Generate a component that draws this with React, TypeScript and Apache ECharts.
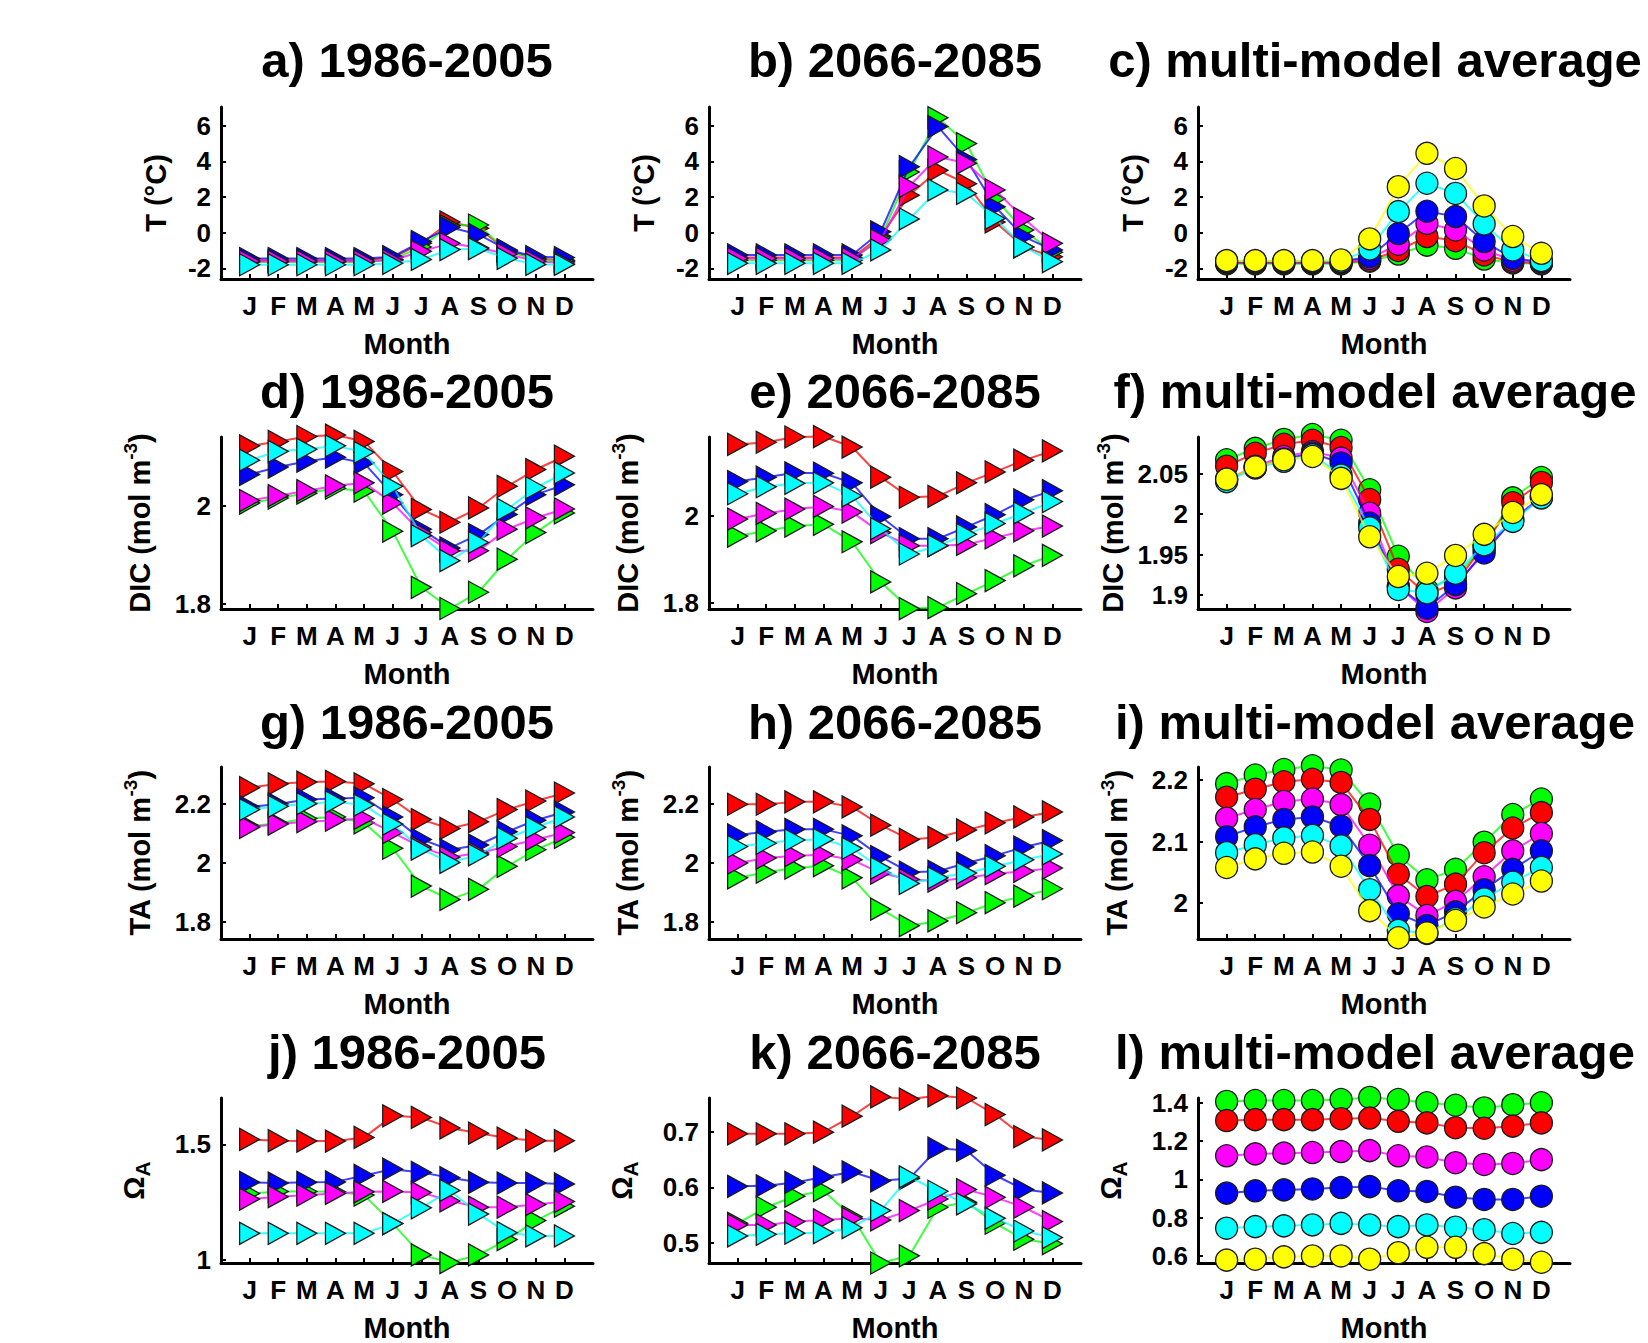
import React, { useEffect, useRef } from 'react';
import * as echarts from 'echarts';

const MONTHS = ['J', 'F', 'M', 'A', 'M', 'J', 'J', 'A', 'S', 'O', 'N', 'D'];
const MONTH_POS = [1, 2, 3, 4, 5, 6, 7, 8, 9, 10, 11, 12];

const RED = '#ff0000';
const GREEN = '#00ff00';
const BLUE = '#0000ff';
const MAGENTA = '#ff00ff';
const CYAN = '#00ffff';
const YELLOW = '#ffff00';

// a) T 1986-2005
const tHistRed = [-1.55, -1.55, -1.55, -1.55, -1.55, -1.4, -0.6, 0.6, 0.25, -1.0, -1.45, -1.55];
const tHistGreen = [-1.65, -1.65, -1.65, -1.65, -1.65, -1.5, -0.8, 0.4, 0.43, -1.05, -1.5, -1.6];
const tHistBlue = [-1.45, -1.45, -1.45, -1.45, -1.45, -1.35, -0.5, 0.3, -0.1, -0.97, -1.35, -1.4];
const tHistMagenta = [-1.6, -1.6, -1.6, -1.6, -1.6, -1.55, -1.05, -0.6, -0.85, -1.2, -1.6, -1.7];
const tHistCyan = [-1.8, -1.8, -1.8, -1.8, -1.8, -1.72, -1.5, -0.95, -0.9, -1.44, -1.78, -1.78];

// b) T 2066-2085
const tFutRed = [-1.4, -1.4, -1.4, -1.4, -1.4, -0.2, 2.1, 3.5, 2.75, 0.6, -0.8, -1.35];
const tFutGreen = [-1.55, -1.55, -1.55, -1.55, -1.55, -0.3, 3.4, 6.45, 5.0, 1.9, 0.15, -1.1];
const tFutBlue = [-1.25, -1.25, -1.25, -1.25, -1.25, 0.05, 3.7, 5.95, 4.1, 1.45, -0.22, -0.97];
const tFutMagenta = [-1.45, -1.45, -1.45, -1.45, -1.45, -0.4, 2.6, 4.25, 3.9, 2.4, 0.8, -0.6];
const tFutCyan = [-1.72, -1.72, -1.72, -1.72, -1.72, -0.97, 0.77, 2.4, 2.2, 0.8, -0.8, -1.63];

// c) T multi-model average
const tAvgGreen = [-1.75, -1.75, -1.75, -1.75, -1.75, -1.6, -1.2, -0.7, -0.88, -1.48, -1.7, -1.75];
const tAvgRed = [-1.7, -1.7, -1.7, -1.7, -1.7, -1.55, -1.0, -0.22, -0.45, -1.25, -1.65, -1.7];
const tAvgMagenta = [-1.65, -1.65, -1.65, -1.65, -1.65, -1.45, -0.65, 0.52, 0.15, -0.97, -1.55, -1.7];
const tAvgBlue = [-1.62, -1.62, -1.62, -1.62, -1.62, -1.35, -0.05, 1.2, 0.9, -0.5, -1.44, -1.63];
const tAvgCyan = [-1.6, -1.6, -1.6, -1.6, -1.6, -0.92, 1.18, 2.77, 2.2, 0.49, -0.97, -1.57];
const tAvgYellow = [-1.57, -1.57, -1.57, -1.57, -1.53, -0.35, 2.58, 4.45, 3.6, 1.5, -0.22, -1.16];

// d) DIC 1986-2005
const dicHistRed = [2.121, 2.13, 2.14, 2.143, 2.13, 2.069, 1.992, 1.966, 1.995, 2.039, 2.073, 2.1];
const dicHistGreen = [2.005, 2.015, 2.025, 2.035, 2.029, 1.948, 1.834, 1.791, 1.824, 1.891, 1.945, 1.985];
const dicHistBlue = [2.063, 2.078, 2.09, 2.098, 2.086, 2.022, 1.952, 1.914, 1.941, 1.982, 2.022, 2.042];
const dicHistMagenta = [2.01, 2.02, 2.03, 2.04, 2.046, 2.005, 1.945, 1.908, 1.908, 1.952, 1.975, 1.993];
const dicHistCyan = [2.092, 2.11, 2.114, 2.121, 2.108, 2.039, 1.939, 1.888, 1.925, 1.992, 2.036, 2.066];

// e) DIC 2066-2085
const dicFutRed = [2.163, 2.168, 2.18, 2.181, 2.157, 2.088, 2.042, 2.044, 2.075, 2.1, 2.127, 2.148];
const dicFutGreen = [1.953, 1.965, 1.976, 1.98, 1.94, 1.848, 1.787, 1.789, 1.821, 1.851, 1.885, 1.909];
const dicFutBlue = [2.078, 2.088, 2.098, 2.097, 2.075, 1.998, 1.947, 1.947, 1.974, 2.002, 2.036, 2.057];
const dicFutMagenta = [1.992, 2.005, 2.015, 2.021, 2.008, 1.961, 1.931, 1.931, 1.934, 1.949, 1.965, 1.976];
const dicFutCyan = [2.05, 2.066, 2.074, 2.075, 2.045, 1.97, 1.912, 1.931, 1.957, 1.982, 2.006, 2.032];

// f) DIC multi-model average
const dicAvgGreen = [2.067, 2.081, 2.092, 2.098, 2.091, 2.03, 1.948, 1.907, 1.923, 1.96, 2.02, 2.045];
const dicAvgRed = [2.059, 2.075, 2.086, 2.091, 2.082, 2.018, 1.932, 1.901, 1.915, 1.962, 2.014, 2.039];
const dicAvgMagenta = [2.042, 2.059, 2.071, 2.077, 2.069, 2.001, 1.911, 1.88, 1.909, 1.956, 1.993, 2.022];
const dicAvgBlue = [2.043, 2.057, 2.068, 2.075, 2.063, 1.989, 1.911, 1.884, 1.913, 1.952, 1.993, 2.02];
const dicAvgCyan = [2.04, 2.057, 2.065, 2.073, 2.048, 1.983, 1.907, 1.903, 1.927, 1.962, 1.991, 2.02];
const dicAvgYellow = [2.043, 2.058, 2.067, 2.071, 2.044, 1.972, 1.923, 1.927, 1.949, 1.975, 2.002, 2.024];

// g) TA 1986-2005
const taHistRed = [2.255, 2.268, 2.274, 2.276, 2.268, 2.215, 2.147, 2.117, 2.14, 2.181, 2.21, 2.237];
const taHistGreen = [2.125, 2.135, 2.151, 2.156, 2.136, 2.05, 1.922, 1.877, 1.911, 1.989, 2.045, 2.087];
const taHistBlue = [2.19, 2.2, 2.215, 2.218, 2.221, 2.156, 2.08, 2.045, 2.061, 2.106, 2.145, 2.173];
const taHistMagenta = [2.121, 2.132, 2.14, 2.145, 2.151, 2.103, 2.054, 2.02, 2.034, 2.056, 2.08, 2.103];
const taHistCyan = [2.181, 2.192, 2.201, 2.207, 2.196, 2.132, 2.047, 2.002, 2.028, 2.084, 2.121, 2.156];

// h) TA 2066-2085
const taFutRed = [2.199, 2.199, 2.207, 2.207, 2.19, 2.128, 2.08, 2.087, 2.112, 2.136, 2.156, 2.173];
const taFutGreen = [1.95, 1.969, 1.983, 1.991, 1.95, 1.844, 1.788, 1.804, 1.832, 1.866, 1.888, 1.913];
const taFutBlue = [2.095, 2.106, 2.114, 2.114, 2.092, 2.022, 1.969, 1.972, 2.0, 2.025, 2.054, 2.076];
const taFutMagenta = [2.0, 2.017, 2.025, 2.028, 2.011, 1.966, 1.944, 1.939, 1.95, 1.964, 1.972, 1.983];
const taFutCyan = [2.056, 2.067, 2.078, 2.08, 2.05, 1.983, 1.931, 1.95, 1.966, 1.989, 2.011, 2.031];

// i) TA multi-model average
const taAvgGreen = [2.194, 2.208, 2.217, 2.223, 2.216, 2.161, 2.078, 2.038, 2.055, 2.099, 2.144, 2.169];
const taAvgRed = [2.172, 2.185, 2.197, 2.201, 2.196, 2.136, 2.047, 2.011, 2.031, 2.082, 2.122, 2.147];
const taAvgMagenta = [2.138, 2.152, 2.165, 2.169, 2.16, 2.094, 2.012, 1.98, 2.003, 2.043, 2.085, 2.113];
const taAvgBlue = [2.108, 2.124, 2.136, 2.14, 2.125, 2.061, 1.983, 1.964, 1.986, 2.022, 2.055, 2.085];
const taAvgCyan = [2.082, 2.095, 2.106, 2.11, 2.093, 2.022, 1.956, 1.951, 1.975, 2.007, 2.034, 2.058];
const taAvgYellow = [2.058, 2.072, 2.081, 2.083, 2.06, 1.988, 1.944, 1.952, 1.972, 1.994, 2.015, 2.036];

// j) Omega_A 1986-2005
const omHistRed = [1.521, 1.516, 1.514, 1.514, 1.53, 1.623, 1.616, 1.571, 1.548, 1.527, 1.516, 1.516];
const omHistGreen = [1.288, 1.297, 1.297, 1.295, 1.281, 1.158, 1.023, 0.99, 1.023, 1.089, 1.171, 1.233];
const omHistBlue = [1.336, 1.333, 1.336, 1.338, 1.366, 1.393, 1.379, 1.356, 1.336, 1.333, 1.333, 1.329];
const omHistMagenta = [1.264, 1.274, 1.281, 1.288, 1.295, 1.297, 1.292, 1.256, 1.229, 1.229, 1.24, 1.253];
const omHistCyan = [1.116, 1.116, 1.116, 1.116, 1.116, 1.158, 1.226, 1.301, 1.199, 1.119, 1.105, 1.105];

// k) Omega_A 2066-2085
const omFutRed = [0.697, 0.697, 0.697, 0.7, 0.729, 0.764, 0.76, 0.766, 0.762, 0.732, 0.692, 0.686];
const omFutGreen = [0.535, 0.564, 0.584, 0.594, 0.547, 0.463, 0.476, 0.564, 0.573, 0.535, 0.506, 0.498];
const omFutBlue = [0.602, 0.603, 0.609, 0.619, 0.628, 0.612, 0.616, 0.671, 0.667, 0.622, 0.596, 0.59];
const omFutMagenta = [0.532, 0.532, 0.538, 0.541, 0.544, 0.541, 0.558, 0.579, 0.596, 0.582, 0.564, 0.538];
const omFutCyan = [0.512, 0.515, 0.517, 0.518, 0.527, 0.558, 0.619, 0.593, 0.57, 0.544, 0.521, 0.509];

// l) Omega_A multi-model average
const omAvgGreen = [1.407, 1.412, 1.412, 1.412, 1.417, 1.428, 1.417, 1.4, 1.387, 1.373, 1.39, 1.4];
const omAvgRed = [1.307, 1.312, 1.312, 1.312, 1.317, 1.32, 1.303, 1.295, 1.27, 1.267, 1.278, 1.295];
const omAvgMagenta = [1.123, 1.133, 1.137, 1.14, 1.145, 1.15, 1.123, 1.117, 1.087, 1.078, 1.083, 1.103];
const omAvgBlue = [0.928, 0.94, 0.945, 0.95, 0.957, 0.962, 0.94, 0.937, 0.907, 0.895, 0.895, 0.912];
const omAvgCyan = [0.745, 0.753, 0.757, 0.762, 0.77, 0.762, 0.753, 0.762, 0.75, 0.737, 0.717, 0.723];
const omAvgYellow = [0.578, 0.583, 0.595, 0.6, 0.6, 0.583, 0.617, 0.645, 0.645, 0.612, 0.583, 0.567];

// Axis ranges and tick values
const T_RANGE = [-2.6, 7.05];
const T_TICKS = [-2, 0, 2, 4, 6];
const DIC_HIST_RANGE = [1.79, 2.139];
const DIC_FUT_RANGE = [1.786, 2.18];
const DIC_TICKS = [1.8, 2];
const DIC_AVG_RANGE = [1.883, 2.095];
const DIC_AVG_TICKS = [1.9, 1.95, 2, 2.05];
const TA_RANGE = [1.743, 2.325];
const TA_TICKS = [1.8, 2, 2.2];
const TA_AVG_RANGE = [1.942, 2.221];
const TA_AVG_TICKS = [2, 2.1, 2.2];
const OM_HIST_RANGE = [0.988, 1.7];
const OM_HIST_TICKS = [1, 1.5];
const OM_FUT_RANGE = [0.463, 0.762];
const OM_FUT_TICKS = [0.5, 0.6, 0.7];
const OM_AVG_RANGE = [0.563, 1.425];
const OM_AVG_TICKS = [0.6, 0.8, 1, 1.2, 1.4];

const TITLES = [
  'a) 1986-2005', 'b) 2066-2085', 'c) multi-model average',
  'd) 1986-2005', 'e) 2066-2085', 'f) multi-model average',
  'g) 1986-2005', 'h) 2066-2085', 'i) multi-model average',
  'j) 1986-2005', 'k) 2066-2085', 'l) multi-model average',
];

const FONT = '"Liberation Sans", Arial, Helvetica, sans-serif';
const TRI = 'path://M0,0L10,5L0,10Z';

type Panel = {
  yName: string;
  nameGap: number;
  range: number[];
  ticks: number[];
  marker: 'tri' | 'circle';
  series: [string, number[]][];
};

const PANELS: Panel[] = [
  { yName: 'T (°C)', nameGap: 46, range: T_RANGE, ticks: T_TICKS, marker: 'tri',
    series: [[RED, tHistRed], [GREEN, tHistGreen], [BLUE, tHistBlue], [MAGENTA, tHistMagenta], [CYAN, tHistCyan]] },
  { yName: 'T (°C)', nameGap: 46, range: T_RANGE, ticks: T_TICKS, marker: 'tri',
    series: [[RED, tFutRed], [GREEN, tFutGreen], [BLUE, tFutBlue], [MAGENTA, tFutMagenta], [CYAN, tFutCyan]] },
  { yName: 'T (°C)', nameGap: 46, range: T_RANGE, ticks: T_TICKS, marker: 'circle',
    series: [[GREEN, tAvgGreen], [RED, tAvgRed], [MAGENTA, tAvgMagenta], [BLUE, tAvgBlue], [CYAN, tAvgCyan], [YELLOW, tAvgYellow]] },
  { yName: 'DIC (mol m{sup|-3})', nameGap: 62, range: DIC_HIST_RANGE, ticks: DIC_TICKS, marker: 'tri',
    series: [[RED, dicHistRed], [GREEN, dicHistGreen], [BLUE, dicHistBlue], [MAGENTA, dicHistMagenta], [CYAN, dicHistCyan]] },
  { yName: 'DIC (mol m{sup|-3})', nameGap: 62, range: DIC_FUT_RANGE, ticks: DIC_TICKS, marker: 'tri',
    series: [[RED, dicFutRed], [GREEN, dicFutGreen], [BLUE, dicFutBlue], [MAGENTA, dicFutMagenta], [CYAN, dicFutCyan]] },
  { yName: 'DIC (mol m{sup|-3})', nameGap: 66, range: DIC_AVG_RANGE, ticks: DIC_AVG_TICKS, marker: 'circle',
    series: [[GREEN, dicAvgGreen], [RED, dicAvgRed], [MAGENTA, dicAvgMagenta], [BLUE, dicAvgBlue], [CYAN, dicAvgCyan], [YELLOW, dicAvgYellow]] },
  { yName: 'TA (mol m{sup|-3})', nameGap: 62, range: TA_RANGE, ticks: TA_TICKS, marker: 'tri',
    series: [[RED, taHistRed], [GREEN, taHistGreen], [BLUE, taHistBlue], [MAGENTA, taHistMagenta], [CYAN, taHistCyan]] },
  { yName: 'TA (mol m{sup|-3})', nameGap: 62, range: TA_RANGE, ticks: TA_TICKS, marker: 'tri',
    series: [[RED, taFutRed], [GREEN, taFutGreen], [BLUE, taFutBlue], [MAGENTA, taFutMagenta], [CYAN, taFutCyan]] },
  { yName: 'TA (mol m{sup|-3})', nameGap: 62, range: TA_AVG_RANGE, ticks: TA_AVG_TICKS, marker: 'circle',
    series: [[GREEN, taAvgGreen], [RED, taAvgRed], [MAGENTA, taAvgMagenta], [BLUE, taAvgBlue], [CYAN, taAvgCyan], [YELLOW, taAvgYellow]] },
  { yName: 'Ω{sub|A}', nameGap: 68, range: OM_HIST_RANGE, ticks: OM_HIST_TICKS, marker: 'tri',
    series: [[RED, omHistRed], [GREEN, omHistGreen], [BLUE, omHistBlue], [MAGENTA, omHistMagenta], [CYAN, omHistCyan]] },
  { yName: 'Ω{sub|A}', nameGap: 68, range: OM_FUT_RANGE, ticks: OM_FUT_TICKS, marker: 'tri',
    series: [[RED, omFutRed], [GREEN, omFutGreen], [BLUE, omFutBlue], [MAGENTA, omFutMagenta], [CYAN, omFutCyan]] },
  { yName: 'Ω{sub|A}', nameGap: 68, range: OM_AVG_RANGE, ticks: OM_AVG_TICKS, marker: 'circle',
    series: [[GREEN, omAvgGreen], [RED, omAvgRed], [MAGENTA, omAvgMagenta], [BLUE, omAvgBlue], [CYAN, omAvgCyan], [YELLOW, omAvgYellow]] },
];

const COL_LEFT = [221, 709, 1198];
const ROW_TOP = [107, 437, 767, 1098];
const PLOT_W = 372;
const PLOT_H = 172;
const TITLE_Y = [60, 391, 722, 1052];
// the right-hand titles are nudged left a little so that they stay inside the page
const TITLE_SHIFT = [0, 0, -9];

const fmt = (v: number) => String(+(+v).toFixed(3));

function buildOption() {
  const grid: any[] = [];
  const xAxis: any[] = [];
  const yAxis: any[] = [];
  const series: any[] = [];
  const graphic: any[] = [];

  PANELS.forEach((p, i) => {
    const col = i % 3;
    const row = Math.floor(i / 3);
    grid.push({ left: COL_LEFT[col], top: ROW_TOP[row], width: PLOT_W, height: PLOT_H, containLabel: false });
    xAxis.push({
      type: 'value', gridIndex: i, min: 0, max: 13,
      axisLine: { show: true, onZero: false, lineStyle: { color: '#000', width: 3 } },
      axisTick: { show: true, inside: true, length: 5, customValues: MONTH_POS, lineStyle: { color: '#000', width: 2 } },
      axisLabel: {
        show: true, customValues: MONTH_POS, margin: 14, color: '#000', fontSize: 26, fontWeight: 'bold', fontFamily: FONT,
        formatter: (v: number) => MONTHS[Math.round(v) - 1] || '',
      },
      splitLine: { show: false },
      name: 'Month', nameLocation: 'middle', nameGap: 50,
      nameTextStyle: { color: '#000', fontSize: 29, fontWeight: 'bold', fontFamily: FONT },
    });
    yAxis.push({
      type: 'value', gridIndex: i, min: p.range[0], max: p.range[1],
      axisLine: { show: true, onZero: false, lineStyle: { color: '#000', width: 3 } },
      axisTick: { show: true, inside: true, length: 5, customValues: p.ticks, lineStyle: { color: '#000', width: 2 } },
      axisLabel: {
        show: true, customValues: p.ticks, margin: 10, color: '#000', fontSize: 26, fontWeight: 'bold', fontFamily: FONT,
        formatter: (v: number) => fmt(v),
      },
      splitLine: { show: false },
      name: p.yName, nameLocation: 'middle', nameRotate: 90, nameGap: p.nameGap,
      nameTextStyle: {
        color: '#000', fontSize: 29, fontWeight: 'bold', fontFamily: FONT, lineHeight: 38,
        rich: {
          sup: { fontSize: 19, fontWeight: 'bold', fontFamily: FONT, color: '#000', verticalAlign: 'top', lineHeight: 38 },
          sub: { fontSize: 21, fontWeight: 'bold', fontFamily: FONT, color: '#000', verticalAlign: 'bottom', lineHeight: 38 },
        },
      },
    });
    p.series.forEach(([color, vals], k) => {
      series.push({
        type: 'line', xAxisIndex: i, yAxisIndex: i, clip: false, z: 2 + k,
        data: vals.map((v, m) => [MONTH_POS[m], v]),
        symbol: p.marker === 'tri' ? TRI : 'circle',
        symbolSize: p.marker === 'tri' ? [20, 22] : 22,
        itemStyle: { color, borderColor: '#1a1a1a', borderWidth: 1.3, opacity: 1 },
        lineStyle: { color, width: 2, opacity: 0.75 },
        emphasis: { disabled: true },
      });
    });
    graphic.push({
      type: 'text', x: COL_LEFT[col] + PLOT_W / 2 + TITLE_SHIFT[col], y: TITLE_Y[row],
      style: {
        text: TITLES[i], fill: '#000', fontSize: 49, fontWeight: 'bold', fontFamily: FONT,
        align: 'center', verticalAlign: 'middle',
      },
    });
  });

  return { animation: false, backgroundColor: '#fff', grid, xAxis, yAxis, series, graphic };
}

export default function App() {
  const ref = useRef<HTMLDivElement>(null);
  useEffect(() => {
    if (!ref.current) return;
    const chart = echarts.init(ref.current, undefined, { renderer: 'svg' });
    chart.setOption(buildOption() as any);
    return () => chart.dispose();
  }, []);
  return (
    <div
      ref={ref}
      style={{ position: 'fixed', left: 0, top: 0, width: 1648, height: 1343, background: '#fff' }}
    />
  );
}
